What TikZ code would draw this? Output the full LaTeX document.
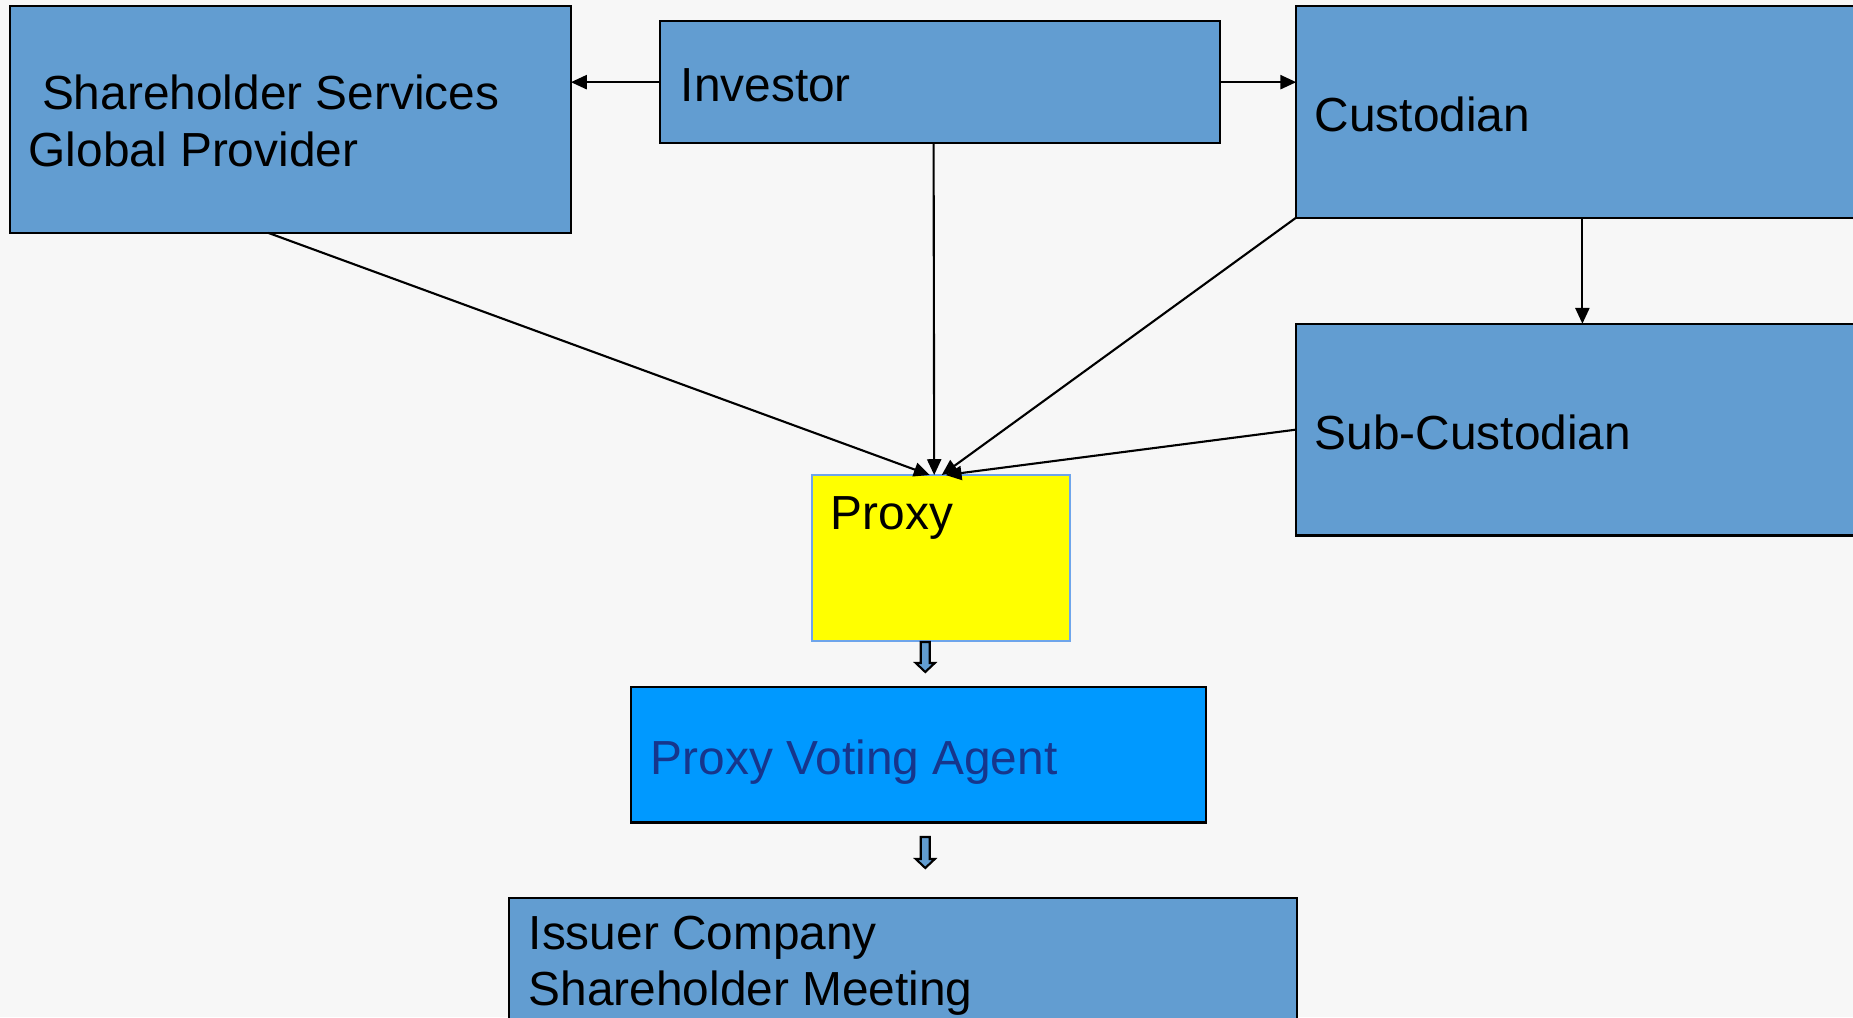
\documentclass[tikz,border=0pt]{standalone}
\usepackage{fontspec}
\setmainfont{Liberation Sans}
\usetikzlibrary{arrows.meta}

\definecolor{boxblue}{RGB}{98,157,209}
\definecolor{agentblue}{RGB}{0,153,255}
\definecolor{agenttext}{RGB}{22,54,140}
\definecolor{proxyedge}{RGB}{110,165,235}
\definecolor{proxyfill}{RGB}{255,255,0}
\definecolor{paper}{RGB}{247,247,247}

\tikzset{
  box/.style={draw=black,fill=boxblue,line width=0.6pt,outer sep=0pt,inner sep=0pt},
  boxtext/.style={anchor=base west,inner sep=0pt,align=left,
    font=\fontsize{13.6pt}{16.1pt}\selectfont},
  link/.style={line width=0.6pt,-{Triangle[length=4.5pt,width=4pt]}},
  hollowarrow/.style={draw=black,fill=boxblue,line width=0.6pt,line join=miter},
}

\begin{document}
\begin{tikzpicture}[x=0.01cm,y=-0.01cm]
\useasboundingbox (0,0) rectangle (1853,1017);
\clip (0,0) rectangle (1853,1017);
\fill[paper] (0,0) rectangle (1853,1017);

% boxes
\node[box,minimum width=5.602cm,minimum height=2.269cm] (sgp) at (290.7,119.35) {};
\node[box,minimum width=5.59cm,minimum height=1.217cm] (investor) at (940.1,82.15) {};
\node[box,minimum width=5.72cm,minimum height=2.116cm] (custodian) at (1582.4,111.7) {};
\node[box,minimum width=5.72cm,minimum height=2.116cm] (subcust) at (1582.4,429.6) {};
\node[box,draw=proxyedge,fill=proxyfill,minimum width=2.576cm,minimum height=1.654cm] (proxy) at (940.7,557.8) {};
\node[box,fill=agentblue,minimum width=5.744cm,minimum height=1.359cm] (agent) at (918.2,754.55) {};
\node[box,minimum width=7.871cm,minimum height=1.418cm] (issuer) at (902.85,969.1) {};

% labels
\node[boxtext] (sgptext) at (28,166.6) {\hspace*{.28em}Shareholder Services\\Global Provider};
\node[boxtext] (investortext) at (680,101.6) {Investor};
\node[boxtext] (custodiantext) at (1314,131) {Custodian};
\node[boxtext] (subcusttext) at (1314,449) {Sub-Custodian};
\node[boxtext] (proxytext) at (830,529.4) {Proxy};
\node[boxtext,text=agenttext] (agenttext) at (650,774) {Proxy Voting Agent};
\node[boxtext] (issuertext) at (528,1005.7) {Issuer Company\\Shareholder Meeting};

% connectors
\draw[link] (investor.west) -- (sgp.east |- investor.west);
\draw[link] (investor.east) -- (custodian.west |- investor.east);
\draw[link] (custodian.south) -- (subcust.north);
\draw[link] ([xshift=-0.065cm]investor.south) -- ([xshift=-0.065cm]proxy.north);
\draw[link] ([xshift=-0.224cm]sgp.south) -- ([xshift=-0.11cm]proxy.north);
\draw[link] (custodian.south west) -- ([xshift=0.01cm]proxy.north);
\draw[link] (subcust.west) -- ([xshift=0.05cm]proxy.north);

% hollow arrows between the lower boxes
\coordinate (arrowA) at (925.3,642);
\coordinate (arrowB) at (925.3,837);
\draw[hollowarrow] (arrowA) ++(-4.5,0) -- ++(0,21) -- ++(-5,0) -- ++(9.5,9)
  -- ++(9.5,-9) -- ++(-5,0) -- ++(0,-21) -- cycle;
\draw[hollowarrow] (arrowB) ++(-4.5,0) -- ++(0,22) -- ++(-5,0) -- ++(9.5,9)
  -- ++(9.5,-9) -- ++(-5,0) -- ++(0,-22) -- cycle;
\end{tikzpicture}
\end{document}
